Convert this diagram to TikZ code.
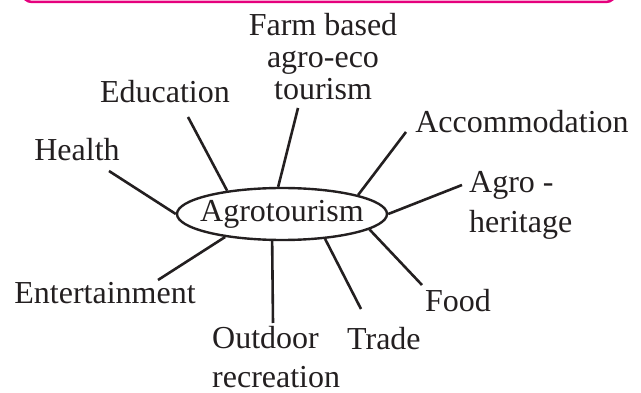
\documentclass[tikz,border=0pt]{standalone}
\usepackage{fontspec}
\setmainfont{Liberation Serif}
\usetikzlibrary{shapes.geometric}
\definecolor{pinkline}{HTML}{E5007D}
\definecolor{ink}{HTML}{231F20}
\begin{document}
\begin{tikzpicture}[x=1pt,y=-1pt,
  lbl/.style={inner sep=0pt, text=ink, font=\fontsize{32}{33}\selectfont},
  conn/.style={draw=ink, line width=2.6pt},
  hub/.style={ellipse, draw=ink, line width=2.4pt, minimum width=210pt,
    minimum height=52pt, inner sep=0pt, text=ink, font=\fontsize{32}{33}\selectfont}
]
\useasboundingbox (0,0) rectangle (641,393);
\draw[pinkline, line width=2.5pt, rounded corners=10pt] (22,-40) rectangle (616,2);

\node[hub] (agro) at (282,214) {\makebox[100pt][c]{Agrotourism}};

% labels
\node[lbl, align=center, anchor=north, font=\fontsize{32}{32}\selectfont] (farm) at (323,13) {Farm based\\agro-eco\\tourism};
\node[lbl, anchor=base] (edu) at (165,103) {Education};
\node[lbl, anchor=base] (health) at (77,161) {Health};
\node[lbl, anchor=base] (acc) at (522,133) {Accommodation};
\node[lbl, align=left, anchor=north west, font=\fontsize{32}{40}\selectfont] (herit) at (469,171.5) {Agro -\\heritage};
\node[lbl, anchor=base west] (food) at (425,312) {Food};
\node[lbl, anchor=base west] (trade) at (347,350) {Trade};
\node[lbl, align=left, anchor=north west, font=\fontsize{32}{39}\selectfont] (outdoor) at (212,326) {Outdoor\\recreation};
\node[lbl, anchor=base] (ent) at (105,304) {Entertainment};

% free ends of connectors
\coordinate (cHealth) at (109,171);
\coordinate (cEdu) at (188,117);
\coordinate (cFarm) at (298,108);
\coordinate (cAcc) at (406,132);
\coordinate (cHerit) at (462,185);
\coordinate (cFood) at (422,285);
\coordinate (cTrade) at (361,309);
\coordinate (cOut) at (273,323);
\coordinate (cEnt) at (158,280);

\draw[conn] (cHealth) -- (agro.180);
\draw[conn] (cEdu) -- (agro.157.6);
\draw[conn] (cFarm) -- (agro.98.7);
\draw[conn] (cAcc) -- (agro.14);
\draw[conn] (cHerit) -- (agro.0);
\draw[conn] (cFood) -- (agro.-10.8);
\draw[conn] (cTrade) -- (agro.-30.2);
\draw[conn] (cOut) -- (agro.250.8);
\draw[conn] (cEnt) -- (agro.202.4);
\end{tikzpicture}
\end{document}
